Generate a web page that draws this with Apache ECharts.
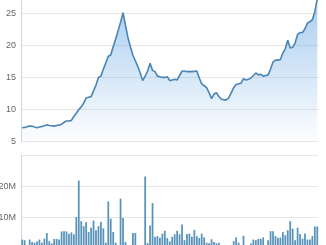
<!DOCTYPE html>
<html>
<head>
<meta charset="utf-8">
<script src="https://cdn.jsdelivr.net/npm/echarts@6/dist/echarts.min.js"></script>
<style>
html,body{margin:0;padding:0;background:#fff;}
#c{width:326px;height:245px;}
</style>
</head>
<body>
<div id="c"></div>
<script>
// Price (line / area) values, one per trading day
const prices = [
  7.15, 7.2, 7.3, 7.4, 7.4, 7.25, 7.15, 7.25, 7.35, 7.45,
  7.6, 7.5, 7.45, 7.4, 7.5, 7.55, 7.7, 8.0, 8.2, 8.2,
  8.3, 8.9, 9.4, 10.0, 10.4, 11.0, 11.8, 11.9, 12.0, 12.9,
  13.8, 15.0, 15.2, 16.3, 17.3, 18.3, 18.5, 19.8, 21.0, 22.3,
  23.6, 25.1, 23.1, 21.2, 19.8, 18.5, 17.6, 16.7, 15.7, 14.5,
  15.2, 16.0, 17.2, 16.1, 15.9, 15.2, 15.1, 15.0, 15.0, 15.1,
  14.5, 14.6, 14.7, 14.6, 15.3, 16.0, 16.0, 15.9, 15.9, 15.9,
  15.95, 16.0, 14.9, 14.0, 13.7, 13.4, 12.6, 11.7, 12.4, 12.6,
  12.0, 11.6, 11.5, 11.5, 11.8, 12.6, 13.4, 13.9, 14.0, 14.1,
  14.8, 14.6, 14.7, 14.9, 15.3, 15.7, 15.4, 15.5, 15.2, 15.3,
  15.4, 16.3, 17.4, 17.7, 17.7, 17.8, 18.8, 19.5, 20.8, 19.6,
  19.7, 20.4, 21.7, 22.0, 22.0, 22.6, 23.5, 23.7, 24.0, 25.3,
  27.2
];
// Volume values in millions, one per trading day
const volumesM = [
  2.9, 2.7, 0, 2.9, 2.1, 1.9, 2.3, 2.9, 1.9, 3.2,
  5.0, 2.4, 1.7, 3.1, 3.1, 2.9, 5.5, 5.6, 5.5, 4.7,
  5.2, 4.6, 10.1, 21.8, 8.8, 7.2, 8.5, 5.3, 6.7, 9.0,
  5.9, 7.2, 8.6, 6.5, 1.9, 15.1, 9.6, 5.3, 1.9, 0,
  16.0, 9.8, 2.1, 0, 0, 5.0, 5.0, 0, 0, 0,
  23.1, 1.8, 7.4, 14.6, 3.8, 4.0, 3.5, 4.8, 5.7, 3.4,
  2.3, 3.8, 4.6, 5.7, 4.6, 7.7, 2.7, 4.7, 4.8, 3.8,
  6.0, 4.0, 3.4, 4.8, 3.6, 1.9, 1.7, 3.0, 2.1, 1.7,
  1.9, 0, 0, 0, 0, 0, 2.4, 3.6, 1.9, 0,
  4.1, 0, 0, 1.6, 2.9, 2.7, 3.1, 3.1, 3.6, 0,
  2.7, 5.6, 5.6, 4.0, 3.5, 3.5, 5.3, 4.3, 5.9, 8.8,
  6.4, 2.7, 6.7, 4.7, 3.2, 4.8, 2.9, 2.9, 4.0, 7.1,
  7.1
];
const days = prices.map((_, i) => i);
const volumes = volumesM.map(v => v * 1e6);
const priceTicks = [5, 10, 15, 20, 25, 30];
const volumeTicks = ['0', '10M', '20M', '30M'];

const chart = echarts.init(document.getElementById('c'), null, {renderer: 'canvas'});
const labelStyle = {
  color: '#666', fontSize: 9, fontFamily: 'Liberation Sans, Arial, sans-serif',
  margin: 5, verticalAlign: 'middle', padding: [0, 0, 8, 0]
};
chart.setOption({
  animation: false,
  grid: [
    {left: 21, right: 7.5, top: -18.7, height: 160.2, containLabel: false, outerBoundsMode: 'none'},
    {left: 21, right: 7.5, top: 155, height: 93.6, containLabel: false, outerBoundsMode: 'none'}
  ],
  xAxis: [
    {type: 'category', gridIndex: 0, data: days, boundaryGap: true,
     axisLine: {show: false}, axisTick: {show: false}, axisLabel: {show: false}, splitLine: {show: false}},
    {type: 'category', gridIndex: 1, data: days, boundaryGap: true,
     axisLine: {show: false}, axisTick: {show: false}, axisLabel: {show: false}, splitLine: {show: false}}
  ],
  yAxis: [
    {type: 'value', gridIndex: 0, min: priceTicks[0], max: priceTicks[priceTicks.length - 1], interval: 5,
     axisLine: {show: true, lineStyle: {color: '#ccd6eb'}}, axisTick: {show: false},
     axisLabel: labelStyle,
     splitLine: {lineStyle: {color: '#e6e6e6'}}},
    {type: 'value', gridIndex: 1, min: 0, max: 30e6, interval: 10e6,
     axisLine: {show: true, lineStyle: {color: '#ccd6eb'}}, axisTick: {show: false},
     axisLabel: Object.assign({}, labelStyle, {showMaxLabel: false,
       formatter: v => volumeTicks[Math.round(v / 10e6)]}),
     splitLine: {lineStyle: {color: '#e6e6e6'}}}
  ],
  series: [
    {type: 'line', xAxisIndex: 0, yAxisIndex: 0, data: prices, symbol: 'none',
     lineStyle: {color: '#4a84b5', width: 1.6},
     areaStyle: {color: new echarts.graphic.LinearGradient(0, 0, 0, 1, [
       {offset: 0, color: 'rgba(110,170,228,0.85)'},
       {offset: 1, color: 'rgba(110,170,228,0.02)'}
     ])}},
    {type: 'bar', xAxisIndex: 1, yAxisIndex: 1, data: volumes, barWidth: '72%',
     itemStyle: {color: '#5a93ba'}}
  ]
});
</script>
</body>
</html>
